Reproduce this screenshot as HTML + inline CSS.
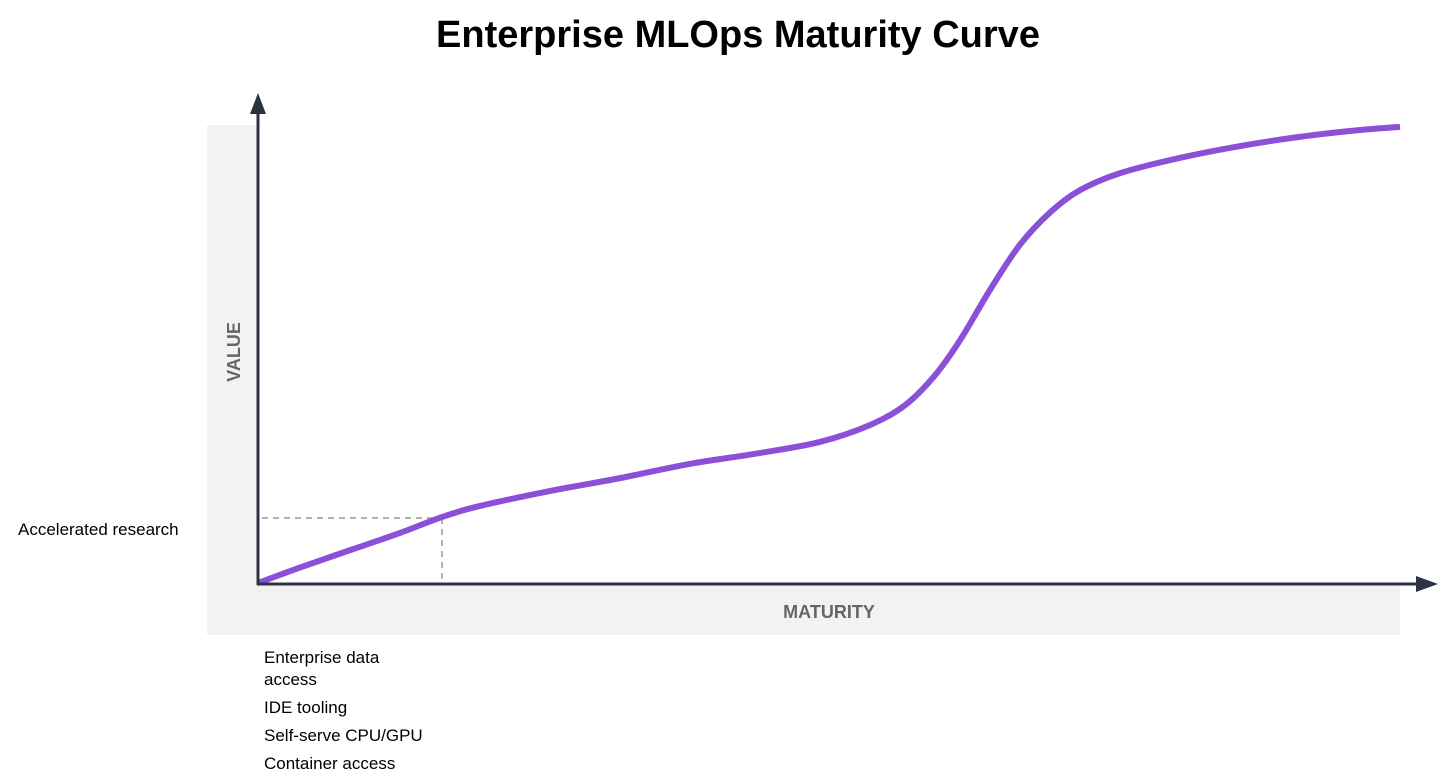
<!DOCTYPE html>
<html><head><meta charset="utf-8"><style>
html,body{margin:0;padding:0;background:#fff;width:1450px;height:783px;overflow:hidden}
svg{display:block}
text{font-family:"Liberation Sans",sans-serif}
</style></head><body>
<svg id="chart" width="1450" height="783">
<text x="738" y="47" text-anchor="middle" font-size="38" font-weight="bold" fill="#000">Enterprise MLOps Maturity Curve</text>
<rect x="207" y="125" width="51" height="510" fill="#f2f2f2"/>
<rect x="207" y="585" width="1193" height="50" fill="#f2f2f2"/>
<text transform="translate(240,352) rotate(-90)" text-anchor="middle" font-size="18" font-weight="bold" fill="#666">VALUE</text>
<text x="829" y="618" text-anchor="middle" font-size="18" font-weight="bold" fill="#666">MATURITY</text>
<line x1="262" y1="518" x2="442" y2="518" stroke="#999" stroke-width="1.5" stroke-dasharray="6,5"/>
<line x1="442" y1="518" x2="442" y2="583" stroke="#999" stroke-width="1.5" stroke-dasharray="6,5"/>
<g id="curve-layer"></g>
<line x1="258" y1="112" x2="258" y2="585" stroke="#2b3340" stroke-width="3"/>
<polygon points="258,93 250,114 266,114" fill="#2b3340"/>
<line x1="257" y1="584" x2="1418" y2="584" stroke="#2b3340" stroke-width="3"/>
<polygon points="1438,584 1416,576 1416,592" fill="#2b3340"/>
<text x="18" y="535" font-size="17" fill="#000">Accelerated research</text>
<g font-size="17" fill="#000">
<text x="264" y="663">Enterprise data</text>
<text x="264" y="685">access</text>
<text x="264" y="713">IDE tooling</text>
<text x="264" y="741">Self-serve CPU/GPU</text>
<text x="264" y="769">Container access</text>
</g>
</svg>
<script>
const maturity = [0,3.7,8.1,12.4,16.1,19.4,25.6,31.7,37.8,44.0,49.2,53.6,56.7,59.3,61.5,64.1,66.7,69.4,72.0,75.5,80.7,86.0,91.2,96.5,100];
const value = [0,3.4,7.2,10.9,14.4,16.8,20.1,22.9,26.0,28.4,30.8,34.5,38.9,45.4,53.1,64.0,73.8,81.0,85.8,89.5,92.8,95.4,97.4,98.9,99.6];
function xs(v){return 258 + v/100*1142;}
function ys(v){return 583 - v/100*458;}
const pts = maturity.map((m,i)=>[xs(m),ys(value[i])]);
let d = 'M'+pts[0][0]+','+pts[0][1];
for(let i=0;i<pts.length-1;i++){
  const p0=pts[i-1]||pts[i], p1=pts[i], p2=pts[i+1], p3=pts[i+2]||p2;
  const c1=[p1[0]+(p2[0]-p0[0])/6, p1[1]+(p2[1]-p0[1])/6];
  const c2=[p2[0]-(p3[0]-p1[0])/6, p2[1]-(p3[1]-p1[1])/6];
  d+=' C'+c1[0]+','+c1[1]+' '+c2[0]+','+c2[1]+' '+p2[0]+','+p2[1];
}
const path=document.createElementNS('http://www.w3.org/2000/svg','path');
path.setAttribute('d',d);
path.setAttribute('fill','none');
path.setAttribute('stroke','#8b4fd8');
path.setAttribute('stroke-width','6');
path.setAttribute('stroke-linecap','butt');


document.getElementById('curve-layer').appendChild(path);
</script>
</body></html>
